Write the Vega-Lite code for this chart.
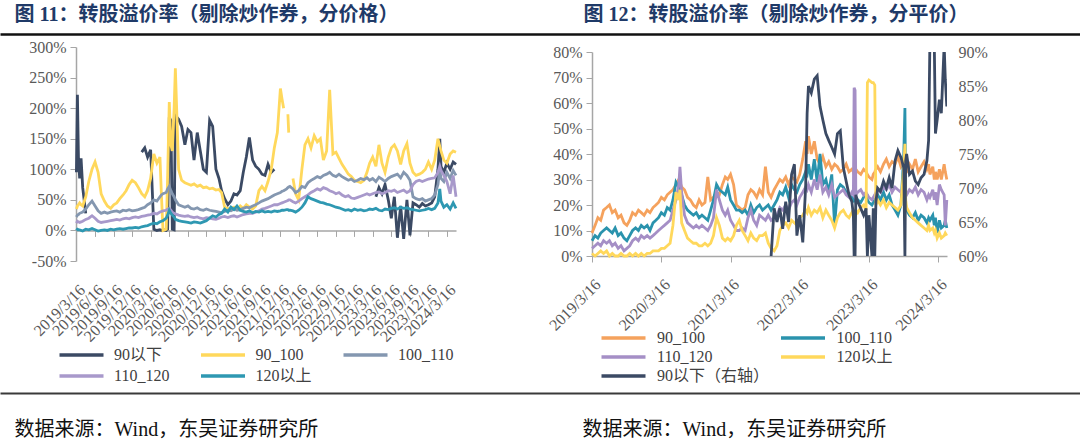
{
"$schema":"https://vega.github.io/schema/vega-lite/v6.json",
"padding":{"top":4,"left":0,"right":0,"bottom":0},
"background":"#ffffff",
"spacing":5,
"resolve":{"scale":{"color":"independent"},"legend":{"color":"independent"}},
"config":{
 "view":{"stroke":null},
 "axis":{"labelFont":"Liberation Serif","labelFontSize":16,"labelColor":"#595959","domainColor":"#A6A6A6","tickColor":"#A6A6A6","grid":false},
 "legend":{"labelFont":"Liberation Serif, Noto Sans CJK SC","labelFontSize":16,"labelColor":"#404040"},
 "title":{"font":"Liberation Serif, Noto Sans CJK SC"}
},
"datasets":{
"NL":[{"k":"a","n":"90以下"},{"k":"b","n":"90_100"},{"k":"c","n":"100_110"},{"k":"e","n":"110_120"},{"k":"f","n":"120以上"}],
"NR":[{"k":"a","n":"90以下（右轴）"},{"k":"b","n":"90_100"},{"k":"c","n":"100_110"},{"k":"e","n":"110_120"},{"k":"f","n":"120以上"}],
"L":[
{"d":"2019-03-16","a":95,"b":35,"c":22,"e":12,"f":0},
{"d":"2019-03-21","a":222,"b":40,"c":25,"e":15,"f":2},
{"d":"2019-03-26","a":120,"b":42,"c":26,"e":14,"f":1},
{"d":"2019-04-01","a":85,"b":45,"c":28,"e":13,"f":1},
{"d":"2019-04-08","a":118,"b":42,"c":29,"e":14,"f":0},
{"d":"2019-04-16","a":70,"b":40,"c":30,"e":15,"f":-1},
{"d":"2019-05-01","a":28,"b":55,"c":35,"e":18,"f":2},
{"d":"2019-05-16","b":80,"c":42,"e":20,"f":1},
{"d":"2019-06-01","b":100,"c":48,"e":24,"f":3},
{"d":"2019-06-16","b":112,"c":40,"e":20,"f":1},
{"d":"2019-07-01","b":95,"c":32,"e":15,"f":-1},
{"d":"2019-07-16","b":60,"c":28,"e":13,"f":0},
{"d":"2019-08-01","b":48,"c":30,"e":14,"f":1},
{"d":"2019-08-16","b":40,"c":28,"e":15,"f":0},
{"d":"2019-09-01","b":36,"c":30,"e":16,"f":2},
{"d":"2019-09-16","b":42,"c":31,"e":17,"f":1},
{"d":"2019-10-01","b":45,"c":32,"e":18,"f":2},
{"d":"2019-10-16","b":52,"c":30,"e":17,"f":3},
{"d":"2019-11-01","b":58,"c":33,"e":19,"f":2},
{"d":"2019-11-16","b":65,"c":32,"e":20,"f":3},
{"d":"2019-12-01","b":75,"c":34,"e":19,"f":4},
{"d":"2019-12-16","b":82,"c":32,"e":21,"f":4},
{"d":"2020-01-01","b":78,"c":33,"e":22,"f":5},
{"d":"2020-01-16","b":70,"c":34,"e":21,"f":4},
{"d":"2020-02-01","a":128,"b":60,"c":36,"e":23,"f":6},
{"d":"2020-02-16","a":135,"b":55,"c":38,"e":24,"f":7},
{"d":"2020-03-01","a":120,"b":65,"c":42,"e":25,"f":8},
{"d":"2020-03-16","a":132,"b":85,"c":45,"e":26,"f":10},
{"d":"2020-04-01","a":2,"b":125,"c":50,"e":28,"f":12},
{"d":"2020-04-16","a":0,"b":110,"c":48,"e":27,"f":11},
{"d":"2020-05-01","a":1,"b":120,"c":55,"e":30,"f":14},
{"d":"2020-05-08","a":0,"b":60,"c":58,"e":31,"f":15},
{"d":"2020-05-16","a":1,"b":0,"c":60,"e":32,"f":16},
{"d":"2020-06-01","a":0,"b":2,"c":62,"e":33,"f":20},
{"d":"2020-06-08","a":2,"b":90,"c":68,"e":35,"f":25},
{"d":"2020-06-16","a":185,"b":210,"c":72,"e":36,"f":33},
{"d":"2020-06-24","a":180,"b":140,"c":65,"e":33,"f":28},
{"d":"2020-07-01","a":2,"b":130,"c":60,"e":30,"f":25},
{"d":"2020-07-10","a":1,"b":200,"c":55,"e":28,"f":22},
{"d":"2020-07-16","a":188,"b":265,"c":50,"e":27,"f":18},
{"d":"2020-08-01","a":182,"b":100,"c":42,"e":25,"f":16},
{"d":"2020-08-16","a":170,"b":82,"c":40,"e":24,"f":15},
{"d":"2020-09-01","a":140,"b":78,"c":38,"e":23,"f":14},
{"d":"2020-09-16","a":165,"b":76,"c":40,"e":24,"f":13},
{"d":"2020-10-01","a":160,"b":74,"c":36,"e":22,"f":12},
{"d":"2020-10-16","a":115,"b":76,"c":35,"e":21,"f":14},
{"d":"2020-11-01","a":160,"b":72,"c":37,"e":22,"f":13},
{"d":"2020-11-16","a":130,"b":74,"c":34,"e":20,"f":12},
{"d":"2020-12-01","a":100,"b":70,"c":33,"e":19,"f":14},
{"d":"2020-12-16","a":95,"b":71,"c":35,"e":21,"f":16},
{"d":"2021-01-01","a":180,"b":68,"c":33,"e":20,"f":20},
{"d":"2021-01-16","a":170,"b":69,"c":32,"e":19,"f":24},
{"d":"2021-02-01","a":100,"b":66,"c":31,"e":18,"f":22},
{"d":"2021-02-16","a":85,"b":67,"c":30,"e":20,"f":26},
{"d":"2021-03-01","a":65,"b":62,"c":29,"e":22,"f":28},
{"d":"2021-03-16","a":52,"b":38,"c":31,"e":23,"f":35},
{"d":"2021-04-01","a":42,"b":36,"c":33,"e":21,"f":30},
{"d":"2021-04-16","a":48,"b":35,"c":32,"e":23,"f":38},
{"d":"2021-05-01","a":60,"b":38,"c":35,"e":24,"f":34},
{"d":"2021-05-16","a":58,"b":34,"c":33,"e":22,"f":40},
{"d":"2021-06-01","a":65,"b":40,"c":34,"e":24,"f":33},
{"d":"2021-06-16","a":95,"b":36,"c":36,"e":26,"f":31},
{"d":"2021-07-01","a":120,"b":42,"c":38,"e":27,"f":30},
{"d":"2021-07-16","a":152,"b":38,"c":37,"e":28,"f":32},
{"d":"2021-08-01","a":115,"b":35,"c":40,"e":28,"f":29},
{"d":"2021-08-16","a":105,"b":40,"c":42,"e":30,"f":31},
{"d":"2021-09-01","a":100,"b":65,"c":45,"e":32,"f":30},
{"d":"2021-09-16","a":92,"b":72,"c":48,"e":35,"f":32},
{"d":"2021-10-01","a":90,"b":65,"c":50,"e":36,"f":30},
{"d":"2021-10-16","a":108,"b":80,"c":52,"e":38,"f":31},
{"d":"2021-11-01","a":95,"b":100,"c":55,"e":40,"f":30},
{"d":"2021-11-16","a":100,"b":135,"c":58,"e":42,"f":32},
{"d":"2021-12-01","b":160,"c":60,"e":42,"f":31},
{"d":"2021-12-16","b":232,"c":62,"e":44,"f":32},
{"d":"2021-12-24","b":215,"c":64,"e":45,"f":33},
{"d":"2022-01-01","b":200,"c":65,"e":46,"f":33},
{"d":"2022-01-16","c":68,"e":48,"f":34},
{"d":"2022-01-22","b":190,"c":70,"e":49,"f":34},
{"d":"2022-01-26","b":160,"c":71,"e":50,"f":33},
{"d":"2022-02-01","c":72,"e":50,"f":33},
{"d":"2022-02-16","b":85,"c":68,"e":47,"f":32},
{"d":"2022-03-01","b":60,"c":62,"e":45,"f":30},
{"d":"2022-03-16","b":50,"c":65,"e":48,"f":33},
{"d":"2022-04-01","b":100,"c":72,"e":52,"f":38},
{"d":"2022-04-16","b":140,"c":70,"e":55,"f":45},
{"d":"2022-05-01","b":150,"c":78,"e":58,"f":55},
{"d":"2022-05-16","b":135,"c":82,"e":62,"f":52},
{"d":"2022-06-01","b":155,"c":85,"e":65,"f":50},
{"d":"2022-06-16","b":145,"c":88,"e":68,"f":48},
{"d":"2022-07-01","b":150,"c":86,"e":66,"f":46},
{"d":"2022-07-16","b":115,"c":90,"e":70,"f":45},
{"d":"2022-08-01","b":130,"c":92,"e":68,"f":43},
{"d":"2022-08-16","b":230,"c":95,"e":65,"f":42},
{"d":"2022-09-01","b":125,"c":90,"e":63,"f":40},
{"d":"2022-09-16","b":128,"c":88,"e":60,"f":38},
{"d":"2022-10-01","b":118,"c":92,"e":62,"f":37},
{"d":"2022-10-16","b":108,"c":88,"e":58,"f":35},
{"d":"2022-11-01","b":100,"c":85,"e":55,"f":33},
{"d":"2022-11-16","b":92,"c":82,"e":57,"f":34},
{"d":"2022-12-01","b":88,"c":84,"e":53,"f":32},
{"d":"2022-12-16","b":82,"c":80,"e":52,"f":35},
{"d":"2023-01-01","b":80,"c":82,"e":54,"f":33},
{"d":"2023-01-16","b":78,"c":85,"e":56,"f":34},
{"d":"2023-02-01","b":82,"c":83,"e":58,"f":32},
{"d":"2023-02-16","b":95,"c":86,"e":60,"f":33},
{"d":"2023-03-01","b":110,"c":82,"e":58,"f":35},
{"d":"2023-03-16","b":120,"c":85,"e":60,"f":34},
{"d":"2023-04-01","a":55,"b":105,"c":80,"e":62,"f":36},
{"d":"2023-04-16","a":70,"b":140,"c":87,"e":63,"f":33},
{"d":"2023-05-01","a":60,"b":110,"c":84,"e":60,"f":32},
{"d":"2023-05-16","a":75,"b":95,"c":80,"e":62,"f":35},
{"d":"2023-06-01","a":50,"b":120,"c":85,"e":65,"f":34},
{"d":"2023-06-16","a":20,"b":135,"c":88,"e":64,"f":36},
{"d":"2023-07-01","a":55,"b":140,"c":90,"e":66,"f":37},
{"d":"2023-07-16","a":-12,"b":130,"c":92,"e":62,"f":35},
{"d":"2023-08-01","a":40,"b":108,"c":86,"e":64,"f":38},
{"d":"2023-08-16","a":-14,"b":130,"c":95,"e":66,"f":36},
{"d":"2023-09-01","a":50,"b":142,"c":90,"e":62,"f":37},
{"d":"2023-09-16","a":-8,"b":110,"c":82,"e":65,"f":35},
{"d":"2023-10-01","a":45,"b":95,"c":55,"e":75,"f":34},
{"d":"2023-10-16","a":42,"b":90,"c":52,"e":80,"f":33},
{"d":"2023-11-01","a":38,"b":92,"c":50,"e":82,"f":32},
{"d":"2023-11-16","a":44,"b":95,"c":52,"e":80,"f":33},
{"d":"2023-12-01","a":40,"b":100,"c":48,"e":82,"f":34},
{"d":"2023-12-16","a":42,"b":112,"c":50,"e":84,"f":36},
{"d":"2024-01-01","a":45,"b":100,"c":52,"e":85,"f":34},
{"d":"2024-01-16","a":55,"b":115,"c":58,"e":86,"f":36},
{"d":"2024-02-01","a":100,"b":150,"c":75,"e":95,"f":45},
{"d":"2024-02-10","a":150,"b":138,"c":100,"e":105,"f":68},
{"d":"2024-02-16","a":105,"b":130,"c":85,"e":98,"f":48},
{"d":"2024-03-01","a":95,"b":115,"c":80,"e":90,"f":38},
{"d":"2024-03-16","a":110,"b":110,"c":95,"e":80,"f":42},
{"d":"2024-04-01","a":100,"b":125,"c":85,"e":60,"f":35},
{"d":"2024-04-16","a":112,"b":130,"c":98,"e":90,"f":45},
{"d":"2024-04-30","a":108,"b":128,"c":90,"e":55,"f":36}
],
"R":[
{"d":"2019-03-16","b":9,"c":6,"e":3,"f":1},
{"d":"2019-04-01","b":12,"c":8,"e":4,"f":0},
{"d":"2019-04-16","b":15,"c":7,"e":5,"f":1},
{"d":"2019-05-01","b":14,"c":9,"e":4,"f":2},
{"d":"2019-05-16","b":18,"c":10,"e":6,"f":1},
{"d":"2019-06-01","b":19,"c":11,"e":5,"f":2},
{"d":"2019-06-16","b":20,"c":10,"e":6,"f":0},
{"d":"2019-07-01","b":17,"c":9,"e":4,"f":1},
{"d":"2019-07-16","b":18,"c":11,"e":5,"f":0},
{"d":"2019-08-01","b":15,"c":8,"e":3,"f":0},
{"d":"2019-08-16","b":16,"c":9,"e":4,"f":1},
{"d":"2019-09-01","b":13,"c":7,"e":2,"f":0},
{"d":"2019-09-16","b":12,"c":6,"e":3,"f":0},
{"d":"2019-10-01","b":14,"c":8,"e":4,"f":1},
{"d":"2019-10-16","b":17,"c":10,"e":6,"f":0},
{"d":"2019-11-01","b":16,"c":11,"e":7,"f":1},
{"d":"2019-11-16","b":18,"c":10,"e":6,"f":0},
{"d":"2019-12-01","b":17,"c":12,"e":8,"f":1},
{"d":"2019-12-16","b":16,"c":11,"e":7,"f":0},
{"d":"2020-01-01","b":18,"c":12,"e":8,"f":1},
{"d":"2020-01-16","b":17,"c":10,"e":7,"f":1},
{"d":"2020-02-01","b":19,"c":13,"e":8,"f":2},
{"d":"2020-02-16","b":20,"c":14,"e":9,"f":2},
{"d":"2020-03-01","b":21,"c":15,"e":10,"f":2},
{"d":"2020-03-16","b":23,"c":17,"e":11,"f":3},
{"d":"2020-04-01","b":22,"c":16,"e":12,"f":3},
{"d":"2020-04-16","b":24,"c":19,"e":13,"f":4},
{"d":"2020-05-01","b":25,"c":18,"e":14,"f":5},
{"d":"2020-05-16","b":26,"c":22,"e":18,"f":12},
{"d":"2020-06-01","b":28,"c":29,"e":22,"f":25},
{"d":"2020-06-16","b":30,"c":27,"e":28,"f":22},
{"d":"2020-06-22","b":29,"c":25,"e":35,"f":26},
{"d":"2020-07-01","b":27,"c":24,"e":25,"f":13},
{"d":"2020-07-16","b":26,"c":20,"e":16,"f":10},
{"d":"2020-08-01","b":23,"c":18,"e":13,"f":7},
{"d":"2020-08-16","b":22,"c":17,"e":12,"f":6},
{"d":"2020-09-01","b":20,"c":16,"e":11,"f":5},
{"d":"2020-09-16","b":19,"c":17,"e":12,"f":5},
{"d":"2020-10-01","b":22,"c":15,"e":11,"f":4},
{"d":"2020-10-16","b":20,"c":16,"e":12,"f":4},
{"d":"2020-11-01","b":21,"c":15,"e":11,"f":5},
{"d":"2020-11-16","b":31,"c":14,"e":10,"f":4},
{"d":"2020-12-01","b":22,"c":18,"e":12,"f":5},
{"d":"2020-12-16","b":23,"c":22,"e":15,"f":8},
{"d":"2021-01-01","b":25,"c":28,"e":26,"f":15},
{"d":"2021-01-16","b":24,"c":26,"e":22,"f":12},
{"d":"2021-02-01","b":28,"c":25,"e":18,"f":7},
{"d":"2021-02-16","b":31,"c":24,"e":16,"f":6},
{"d":"2021-03-01","b":30,"c":27,"e":18,"f":7},
{"d":"2021-03-16","b":32,"c":22,"e":14,"f":6},
{"d":"2021-04-01","b":28,"c":20,"e":12,"f":8},
{"d":"2021-04-16","b":20,"c":18,"e":10,"f":12},
{"d":"2021-05-01","b":19,"c":18,"e":10,"f":14},
{"d":"2021-05-16","b":18,"c":17,"e":11,"f":10},
{"d":"2021-06-01","b":19,"c":18,"e":10,"f":8},
{"d":"2021-06-16","b":24,"c":16,"e":15,"f":6},
{"d":"2021-07-01","b":26,"c":20,"e":18,"f":9},
{"d":"2021-07-16","b":25,"c":17,"e":14,"f":7},
{"d":"2021-08-01","b":23,"c":19,"e":12,"f":6},
{"d":"2021-08-16","b":26,"c":20,"e":16,"f":8},
{"d":"2021-09-01","b":24,"c":18,"e":15,"f":8},
{"d":"2021-09-16","b":35,"c":19,"e":14,"f":9},
{"d":"2021-10-01","b":25,"c":20,"e":16,"f":5},
{"d":"2021-10-16","a":60,"b":23,"c":18,"e":14,"f":3},
{"d":"2021-11-01","a":67,"b":26,"c":20,"e":15,"f":2},
{"d":"2021-11-16","a":65,"b":28,"c":22,"e":16,"f":4},
{"d":"2021-12-01","a":67,"b":30,"c":25,"e":19,"f":10},
{"d":"2021-12-16","a":64,"b":29,"c":24,"e":18,"f":12},
{"d":"2022-01-01","a":68,"b":31,"c":27,"e":20,"f":13},
{"d":"2022-01-16","a":65,"b":28,"c":23,"e":18,"f":11},
{"d":"2022-02-01","a":72,"b":31,"c":28,"e":21,"f":14},
{"d":"2022-02-16","a":73.5,"b":30,"c":26,"e":22,"f":13},
{"d":"2022-03-01","a":63,"b":29,"c":25,"e":20,"f":12},
{"d":"2022-03-16","a":66,"b":32,"c":28,"e":23,"f":15},
{"d":"2022-04-01","a":62,"b":38,"c":30,"e":25,"f":16},
{"d":"2022-04-16","a":70,"b":45,"c":33,"e":27,"f":18},
{"d":"2022-04-24","a":81,"b":40,"c":32,"e":26,"f":17},
{"d":"2022-05-01","a":85,"b":47,"c":36,"e":28,"f":19},
{"d":"2022-05-16","a":84,"b":40,"c":30,"e":25,"f":16},
{"d":"2022-06-01","a":86,"b":45,"c":38,"e":30,"f":18},
{"d":"2022-06-16","a":86.5,"b":38,"c":29,"e":26,"f":17},
{"d":"2022-07-01","a":82,"b":36,"c":40,"e":32,"f":19},
{"d":"2022-07-16","a":80,"b":39,"c":28,"e":25,"f":15},
{"d":"2022-08-01","a":78,"b":35,"c":30,"e":27,"f":18},
{"d":"2022-08-16","a":77,"b":37,"c":25,"e":24,"f":16},
{"d":"2022-09-01","a":76,"b":34,"c":32,"e":28,"f":14},
{"d":"2022-09-16","a":75,"b":36,"c":12,"e":23,"f":11},
{"d":"2022-10-01","a":78,"b":35,"c":26,"e":24,"f":15},
{"d":"2022-10-16","a":78.4,"b":33,"c":28,"e":25,"f":17},
{"d":"2022-11-01","a":73,"b":34,"c":27,"e":26,"f":18},
{"d":"2022-11-16","a":71,"b":36,"c":25,"e":24,"f":16},
{"d":"2022-12-01","a":69,"b":33,"c":24,"e":23,"f":15},
{"d":"2022-12-16","a":68,"b":34,"c":23,"e":25,"f":17},
{"d":"2022-12-24","a":66,"b":33,"c":22,"e":24,"f":16},
{"d":"2022-12-28","a":60,"b":32,"c":23,"e":66,"f":15},
{"d":"2023-01-02","a":60,"b":33,"c":22,"e":65,"f":16},
{"d":"2023-01-06","a":69,"b":34,"c":21,"e":24,"f":18},
{"d":"2023-01-16","a":68,"b":33,"c":22,"e":25,"f":17},
{"d":"2023-02-01","a":67,"b":32,"c":21,"e":26,"f":19},
{"d":"2023-02-16","a":66,"b":34,"c":23,"e":24,"f":20},
{"d":"2023-03-01","a":67,"b":33,"c":24,"e":25,"f":18},
{"d":"2023-03-08","a":60,"b":32,"c":22,"e":24,"f":68},
{"d":"2023-03-16","a":66,"b":31,"c":21,"e":23,"f":69},
{"d":"2023-04-01","a":60,"b":30,"c":20,"e":22,"f":68},
{"d":"2023-04-08","a":67,"b":32,"c":21,"e":23,"f":68},
{"d":"2023-04-16","a":60,"b":33,"c":22,"e":24,"f":67},
{"d":"2023-04-22","a":68,"b":34,"c":23,"e":25,"f":20},
{"d":"2023-05-01","a":70,"b":35,"c":24,"e":26,"f":22},
{"d":"2023-05-16","a":69.5,"b":33,"c":22,"e":25,"f":20},
{"d":"2023-06-01","a":71,"b":36,"c":25,"e":27,"f":22},
{"d":"2023-06-16","a":70,"b":38,"c":22,"e":26,"f":19},
{"d":"2023-07-01","a":71.5,"b":35,"c":24,"e":28,"f":21},
{"d":"2023-07-16","a":70,"b":37,"c":20,"e":25,"f":20},
{"d":"2023-08-01","a":74,"b":36,"c":18,"e":27,"f":19},
{"d":"2023-08-16","a":75.5,"b":39,"c":16,"e":26,"f":18},
{"d":"2023-09-01","a":74.5,"b":35,"c":20,"e":25,"f":20},
{"d":"2023-09-16","a":73,"b":37,"c":40,"e":27,"f":35},
{"d":"2023-09-22","a":60,"b":34,"c":58,"e":26,"f":44},
{"d":"2023-09-26","a":74,"b":33,"c":20,"e":25,"f":22},
{"d":"2023-10-01","a":75,"b":33,"c":18,"e":24,"f":19},
{"d":"2023-10-16","a":72,"b":36,"c":16,"e":26,"f":17},
{"d":"2023-11-01","a":72.5,"b":34,"c":15,"e":25,"f":15},
{"d":"2023-11-16","a":71,"b":38,"c":17,"e":27,"f":14},
{"d":"2023-12-01","a":70.5,"b":33,"c":14,"e":24,"f":13},
{"d":"2023-12-16","a":71.5,"b":35,"c":16,"e":26,"f":12},
{"d":"2024-01-01","a":72,"b":37,"c":15,"e":25,"f":11},
{"d":"2024-01-16","a":74,"b":34,"c":13,"e":22,"f":10},
{"d":"2024-01-25","a":77,"b":36,"c":15,"e":24,"f":12},
{"d":"2024-02-01","a":92,"b":32,"c":14,"e":23,"f":10},
{"d":"2024-02-16","a":92,"b":35,"c":16,"e":26,"f":11},
{"d":"2024-02-24","a":91,"b":30,"c":12,"e":22,"f":9},
{"d":"2024-03-01","a":78,"b":33,"c":15,"e":25,"f":10},
{"d":"2024-03-10","a":80,"b":30,"c":9,"e":20,"f":7},
{"d":"2024-03-22","a":83,"b":34,"c":14,"e":28,"f":9},
{"d":"2024-04-01","a":81,"b":30,"c":11,"e":26,"f":7},
{"d":"2024-04-16","a":91,"b":36,"c":12,"e":24,"f":8},
{"d":"2024-04-22","a":86,"b":33,"c":14,"e":12,"f":9},
{"d":"2024-04-30","a":82,"b":30,"c":11,"e":22,"f":8}
]
},
"vconcat":[
 {"width":1080,"height":1,"data":{"values":[{"x":0}]},"mark":{"type":"point","size":0,"opacity":0},
  "encoding":{
   "x":{"field":"x","type":"quantitative","scale":{"domain":[0,1]},
    "axis":{"orient":"bottom","domain":true,"domainColor":"#111111","domainWidth":2.5,"ticks":false,"labels":false,
     "title":"图 12：转股溢价率（剔除炒作券，分平价）","titleX":583,"titleY":-10,"titleAlign":"left","titleAngle":0,"titleBaseline":"bottom","titleFont":"Liberation Serif, Noto Sans CJK SC","titleFontSize":20,"titleFontWeight":"bold","titleColor":"#1F3A68"}},
   "y":{"field":"x","type":"quantitative","scale":{"domain":[0,1]},
    "axis":{"orient":"left","domain":false,"ticks":false,"labels":false,"minExtent":0,
     "title":"图 11：转股溢价率（剔除炒作券，分价格）","titleX":14,"titleY":-9,"titleAlign":"left","titleAngle":0,"titleBaseline":"bottom","titleFont":"Liberation Serif, Noto Sans CJK SC","titleFontSize":20,"titleFontWeight":"bold","titleColor":"#1F3A68"}}
  }},
 {"spacing":9,
  "resolve":{"scale":{"color":"independent"},"legend":{"color":"independent"}},
  "vconcat":[
  {"spacing":0,
   "resolve":{"scale":{"color":"independent"},"legend":{"color":"independent"}},
   "hconcat":[
   {"width":1,"height":1,"data":{"values":[{"x":0}]},"mark":{"type":"point","size":0,"opacity":0},
    "encoding":{"x":{"field":"x","type":"quantitative","axis":null}}},
   {"spacing":84,
    "resolve":{"scale":{"color":"independent"},"legend":{"color":"independent"}},
    "hconcat":[
    {"width":380,"height":214,"data":{"name":"L"},
     "transform":[{"fold":["a","b","c","e","f"],"as":["k","v"]},{"lookup":"k","from":{"data":{"name":"NL"},"key":"k","fields":["n"]}}],
     "mark":{"type":"line","strokeWidth":2.8},
     "encoding":{
      "x":{"field":"d","type":"temporal","scale":{"type":"utc","domain":[{"year":2019,"month":3,"date":14,"utc":true},{"year":2024,"month":4,"date":30,"utc":true}]},
       "axis":{"title":null,"values":[{"year":2019,"month":3,"date":16,"utc":true},{"year":2019,"month":6,"date":16,"utc":true},{"year":2019,"month":9,"date":16,"utc":true},{"year":2019,"month":12,"date":16,"utc":true},{"year":2020,"month":3,"date":16,"utc":true},{"year":2020,"month":6,"date":16,"utc":true},{"year":2020,"month":9,"date":16,"utc":true},{"year":2020,"month":12,"date":16,"utc":true},{"year":2021,"month":3,"date":16,"utc":true},{"year":2021,"month":6,"date":16,"utc":true},{"year":2021,"month":9,"date":16,"utc":true},{"year":2021,"month":12,"date":16,"utc":true},{"year":2022,"month":3,"date":16,"utc":true},{"year":2022,"month":6,"date":16,"utc":true},{"year":2022,"month":9,"date":16,"utc":true},{"year":2022,"month":12,"date":16,"utc":true},{"year":2023,"month":3,"date":16,"utc":true},{"year":2023,"month":6,"date":16,"utc":true},{"year":2023,"month":9,"date":16,"utc":true},{"year":2023,"month":12,"date":16,"utc":true},{"year":2024,"month":3,"date":16,"utc":true}],
        "format":"%Y/%-m/%-d","labelAngle":-45,"labelOverlap":false,"labelFlush":false,"labelBound":false,"offset":-30.6,"tickSize":6,"labelPadding":45,"domainWidth":1.5}},
      "y":{"field":"v","type":"quantitative","scale":{"domain":[-50,300],"nice":false,"zero":false},
       "axis":{"title":null,"values":[-50,0,50,100,150,200,250,300],"labelExpr":"datum.value + '%'","tickSize":6,"labelPadding":4,"minExtent":75,"domainWidth":1.5}},
      "color":{"field":"n","type":"nominal","scale":{"domain":["90以下","90_100","100_110","110_120","120以上"],"range":["#3B4A64","#FFD85C","#8497B0","#A899CB","#2E98B2"]},
       "legend":{"title":null,"orient":"none","legendX":-24.5,"legendY":300,"direction":"horizontal","columns":3,"columnPadding":23.5,"rowPadding":5,"symbolType":"M0,0H8","symbolSize":121,"symbolStrokeWidth":3.5,"labelOffset":46.5,"padding":0}}
     }},
    {"spacing":-4,"vconcat":[
     {"width":1,"height":1,"data":{"values":[{"x":0}]},"mark":{"type":"point","size":0,"opacity":0},
      "encoding":{"x":{"field":"x","type":"quantitative","axis":null}}},
     {"width":355,"height":204,"data":{"name":"R"},
      "transform":[{"fold":["a","b","c","e","f"],"as":["k","v"]},{"lookup":"k","from":{"data":{"name":"NR"},"key":"k","fields":["n"]}}],
      "encoding":{
       "x":{"field":"d","type":"temporal","scale":{"type":"utc","domain":[{"year":2019,"month":3,"date":16,"utc":true},{"year":2024,"month":5,"date":1,"utc":true}]},
        "axis":{"title":null,"values":[{"year":2019,"month":3,"date":16,"utc":true},{"year":2020,"month":3,"date":16,"utc":true},{"year":2021,"month":3,"date":16,"utc":true},{"year":2022,"month":3,"date":16,"utc":true},{"year":2023,"month":3,"date":16,"utc":true},{"year":2024,"month":3,"date":16,"utc":true}],
         "format":"%Y/%-m/%-d","labelAngle":-45,"labelOverlap":false,"labelFlush":false,"labelBound":false,"tickSize":6,"labelPadding":14,"domainWidth":1.5}},
       "color":{"field":"n","type":"nominal","scale":{"domain":["90_100","100_110","110_120","120以上","90以下（右轴）"],"range":["#F5A25D","#2A93AD","#A58FC6","#FFD85C","#3B4A64"]},
        "legend":{"title":null,"orient":"none","legendX":1.5,"legendY":283,"direction":"horizontal","columns":2,"columnPadding":3.5,"rowPadding":3,"symbolType":"M0,0H8","symbolSize":121,"symbolStrokeWidth":3.5,"labelOffset":47.5,"padding":0}}
      },
      "layer":[
       {"transform":[{"filter":"datum.k != 'a'"}],"mark":{"type":"line","strokeWidth":2.8},
        "encoding":{"y":{"field":"v","type":"quantitative","scale":{"domain":[0,80],"nice":false},
         "axis":{"title":null,"values":[0,10,20,30,40,50,60,70,80],"labelExpr":"datum.value + '%'","tickSize":6,"labelPadding":4,"minExtent":44,"domainWidth":1.5}}}},
       {"transform":[{"filter":"datum.k == 'a'"}],"mark":{"type":"line","strokeWidth":2.8,"clip":true},
        "encoding":{"y":{"field":"v","type":"quantitative","scale":{"domain":[60,90],"nice":false,"zero":false},
         "axis":{"title":null,"orient":"right","values":[60,65,70,75,80,85,90],"labelExpr":"datum.value + '%'","domain":false,"ticks":false,"labelPadding":11}}}}
      ],
      "resolve":{"scale":{"y":"independent"}}
     }
    ]}
   ]}
  ]},
  {"width":1080,"height":1,"data":{"values":[{"x":0}]},"mark":{"type":"point","size":0,"opacity":0},
   "encoding":{
    "x":{"field":"x","type":"quantitative","scale":{"domain":[0,1]},
     "axis":{"orient":"top","domain":true,"domainColor":"#3A3A3A","domainWidth":2,"ticks":false,"labels":false,
      "title":"数据来源：Wind，东吴证券研究所","titleX":582,"titleY":26,"titleAlign":"left","titleAngle":0,"titleBaseline":"top","titleFont":"Liberation Serif, Noto Sans CJK SC","titleFontSize":20,"titleFontWeight":"normal","titleColor":"#111111"}},
    "y":{"field":"x","type":"quantitative","scale":{"domain":[0,1]},
     "axis":{"orient":"left","domain":false,"ticks":false,"labels":false,"minExtent":0,
      "title":"数据来源：Wind，东吴证券研究所","titleX":14,"titleY":26,"titleAlign":"left","titleAngle":0,"titleBaseline":"top","titleFont":"Liberation Serif, Noto Sans CJK SC","titleFontSize":20,"titleFontWeight":"normal","titleColor":"#111111"}}
   }}
 ]}
]
}
